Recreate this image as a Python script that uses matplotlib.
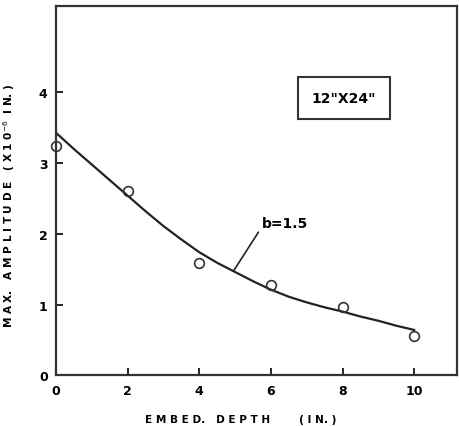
import matplotlib.pyplot as plt

# measured points (open circles)
depth = [0, 2, 4, 6, 8, 10]
amplitude = [3.24, 2.61, 1.59, 1.28, 0.96, 0.56]

# fitted curve
curve_depth = [0, 0.5, 1, 1.5, 2, 2.5, 3, 3.5, 4, 4.5, 5,
               5.5, 6, 6.5, 7, 7.5, 8, 8.5, 9, 9.5, 10]
curve_amp = [3.43, 3.20, 2.98, 2.76, 2.54, 2.32, 2.11, 1.92, 1.74, 1.59, 1.46,
             1.33, 1.21, 1.11, 1.03, 0.96, 0.90, 0.83, 0.77, 0.70, 0.64]

xticks = [0, 2, 4, 6, 8, 10]
yticks = [0, 1, 2, 3, 4]


def main():
    fig = plt.figure(figsize=(4.59, 4.27), dpi=100)
    ax = fig.add_axes([0.122, 0.119, 0.874, 0.864])

    ax.plot(curve_depth, curve_amp, color='#222222', lw=1.6)
    ax.plot(depth, amplitude, 'o', mfc='none', mec='#333333', ms=7, mew=1.2,
            clip_on=False, zorder=5)

    ax.set_xlim(0, 11.2)
    ax.set_ylim(0, 5.22)
    ax.set_xticks(xticks)
    ax.set_yticks(yticks)
    ax.tick_params(direction='in', length=5, width=1.2, labelsize=9, pad=6)
    for lab in ax.get_xticklabels() + ax.get_yticklabels():
        lab.set_fontweight('bold')
    for sp in ax.spines.values():
        sp.set_linewidth(1.6)
        sp.set_color('#333333')

    ax.set_xlabel('E M B E D.   D E P T H        ( I N. )', fontsize=7.6,
                  fontweight='bold')
    ax.xaxis.set_label_coords(0.46, -0.105)
    ax.set_ylabel('M A X.   A M P L I T U D E   ( X 1 0$^{-6}$  I N. )',
                  fontsize=7.6, fontweight='bold')
    ax.yaxis.set_label_coords(-0.097, 0.463)

    ax.text(8.04, 3.92, '12"X24"', ha='center', va='center', fontsize=10,
            fontweight='bold',
            bbox=dict(boxstyle='square,pad=1.0', fc='white', ec='#333333', lw=1.5))

    ax.annotate('b=1.5', xy=(4.95, 1.47), xytext=(5.75, 2.16), fontsize=10,
                fontweight='bold', ha='left', va='center',
                arrowprops=dict(arrowstyle='-', color='#222222', lw=1.2,
                                relpos=(0, 0.2), shrinkA=1, shrinkB=0))

    fig.savefig('out.png', dpi=100)


if __name__ == "__main__":
    main()
